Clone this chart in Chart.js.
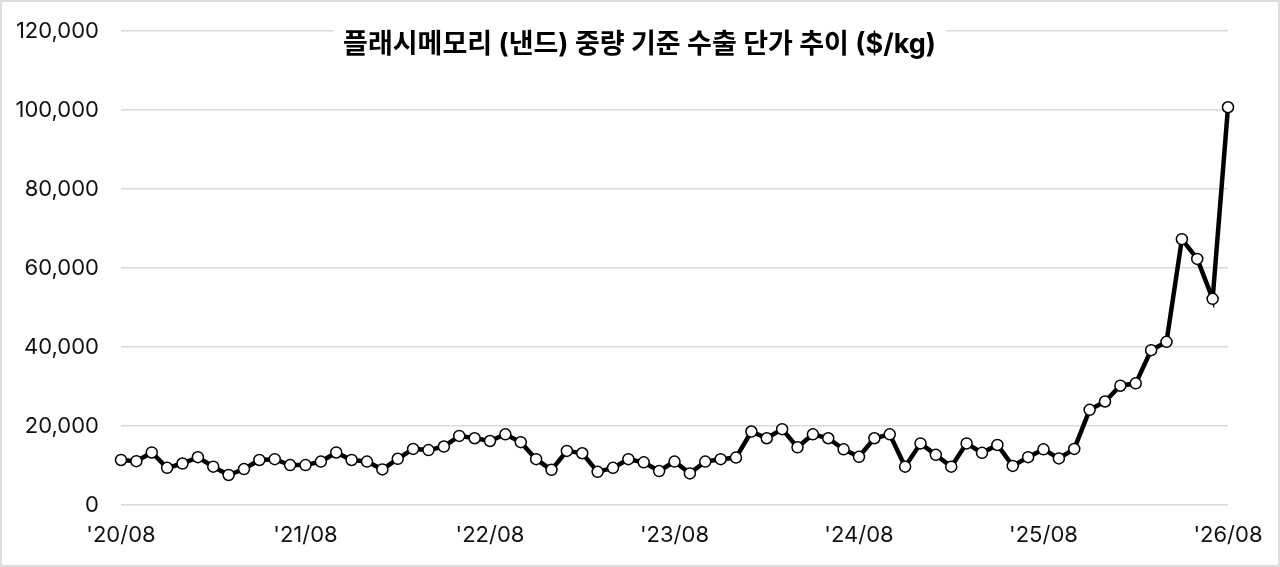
<!DOCTYPE html>
<html>
<head>
<meta charset="utf-8">
<script src="https://cdn.jsdelivr.net/npm/chart.js@4"></script>
<style>
  html, body { margin: 0; padding: 0; background: #fff; }
  #wrap { width: 1280px; height: 567px; box-sizing: border-box; border: 2px solid #dedede; position: relative; }
  canvas { display: block; }
</style>
</head>
<body>
<div id="wrap"><canvas id="c" width="1276" height="563"></canvas></div>
<script>
const chartTitle = "플래시메모리 (낸드) 중량 기준 수출 단가 추이 ($/kg)";
const months = [
  "'20/08","'20/09","'20/10","'20/11","'20/12",
  "'21/01","'21/02","'21/03","'21/04","'21/05","'21/06","'21/07","'21/08","'21/09","'21/10","'21/11","'21/12",
  "'22/01","'22/02","'22/03","'22/04","'22/05","'22/06","'22/07","'22/08","'22/09","'22/10","'22/11","'22/12",
  "'23/01","'23/02","'23/03","'23/04","'23/05","'23/06","'23/07","'23/08","'23/09","'23/10","'23/11","'23/12",
  "'24/01","'24/02","'24/03","'24/04","'24/05","'24/06","'24/07","'24/08","'24/09","'24/10","'24/11","'24/12",
  "'25/01","'25/02","'25/03","'25/04","'25/05","'25/06","'25/07","'25/08","'25/09","'25/10","'25/11","'25/12",
  "'26/01","'26/02","'26/03","'26/04","'26/05","'26/06","'26/07","'26/08"
];
const unitPrice = [
  11400, 11100, 13300, 9400, 10500,
  12100, 9700, 7600, 9100, 11400, 11600, 10100, 10100, 11000, 13300, 11400, 11000,
  9000, 11700, 14200, 13900, 14800, 17500, 16900, 16200, 17900, 15900, 11600, 8900,
  13700, 13100, 8400, 9400, 11600, 10800, 8600, 11000, 8000, 11000, 11600, 12000,
  18600, 16900, 19200, 14600, 17900, 16900, 14100, 12200, 16900, 17900, 9700, 15600,
  12700, 9700, 15600, 13200, 15200, 9900, 12100, 14100, 11800, 14200, 24100, 26200,
  30200, 30800, 39200, 41300, 67300, 62300, 52200, 100700
];
const yTicks = [0, 20000, 40000, 60000, 80000, 100000, 120000];
const shownLabels = ["'20/08","'21/08","'22/08","'23/08","'24/08","'25/08","'26/08"];

const FONT = "Inter, 'Noto Sans CJK KR', sans-serif";

const titlePlugin = {
  id: 'overlayTitle',
  afterDraw(chart) {
    const ctx = chart.ctx;
    ctx.save();
    ctx.font = "bold 27px " + FONT;
    const w = ctx.measureText(chartTitle).width;
    const cx = (chart.chartArea.left + chart.chartArea.right) / 2 - 35;
    const cy = 43;
    ctx.fillStyle = '#ffffff';
    ctx.fillRect(cx - w / 2 - 10, chart.chartArea.top - 6, w + 20, 34);
    ctx.fillStyle = '#000000';
    ctx.textAlign = 'center';
    ctx.textBaseline = 'middle';
    ctx.fillText(chartTitle, cx, cy);
    ctx.restore();
  }
};

new Chart(document.getElementById('c'), {
  type: 'line',
  data: {
    labels: months,
    datasets: [{
      data: unitPrice,
      borderColor: '#000000',
      borderWidth: 4.5,
      tension: 0,
      pointRadius: 5.5,
      pointHoverRadius: 5.5,
      pointBackgroundColor: '#ffffff',
      pointBorderColor: '#000000',
      pointBorderWidth: 1.5
    }]
  },
  options: {
    responsive: false,
    animation: false,
    layout: { padding: { top: 29, right: 50, bottom: 0, left: 0 } },
    plugins: { legend: { display: false }, title: { display: false }, tooltip: { enabled: false } },
    scales: {
      x: {
        offset: false,
        grid: { display: false, drawTicks: false },
        border: { display: false },
        afterFit(scale) {
          scale.height = 60;
          scale.paddingLeft = 0; scale.paddingRight = 0;
          scale.paddingTop = 0; scale.paddingBottom = 0;
        },
        ticks: {
          autoSkip: false,
          maxRotation: 0,
          minRotation: 0,
          padding: 17,
          color: '#111111',
          font: { family: FONT, size: 22 },
          callback(val, idx) {
            const l = months[idx];
            return shownLabels.includes(l) ? l : '';
          }
        }
      },
      y: {
        min: 0,
        max: 120000,
        afterBuildTicks(scale) { scale.ticks = yTicks.map(v => ({ value: v })); },
        afterFit(scale) {
          scale.width = 119;
          scale.paddingTop = 0; scale.paddingBottom = 0;
          scale.paddingLeft = 0; scale.paddingRight = 0;
        },
        grid: { color: '#d9d9d9', lineWidth: 1.5, drawTicks: false },
        border: { display: false },
        ticks: {
          padding: 22,
          color: '#111111',
          font: { family: FONT, size: 22 },
          callback(v) { return v.toLocaleString('en-US'); }
        }
      }
    }
  },
  plugins: [titlePlugin]
});
</script>
</body>
</html>
